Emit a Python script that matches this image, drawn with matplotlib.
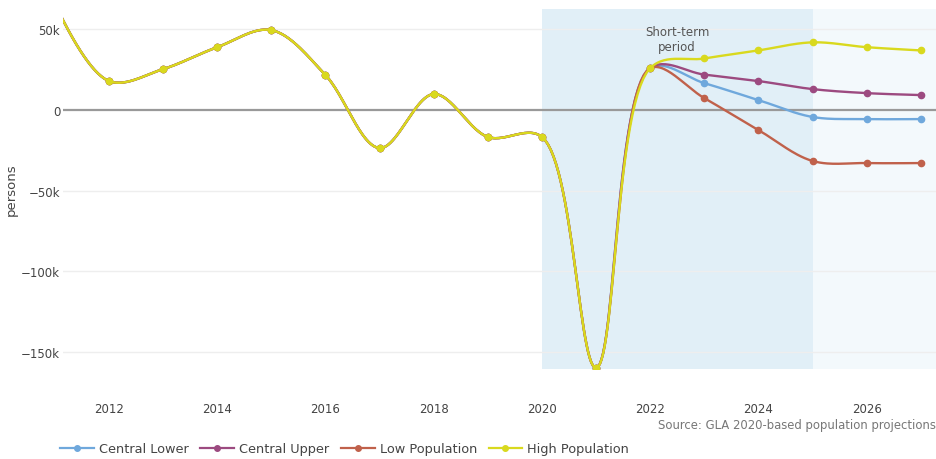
import numpy as np
import matplotlib.pyplot as plt
from matplotlib.ticker import FuncFormatter

# historical net flow (shared by every scenario)
years_hist = [2011, 2012, 2013, 2014, 2015, 2016, 2017, 2018, 2019, 2020, 2021, 2022]
hist = [66000, 18000, 25400, 39000, 49600, 21700, -23600, 9900, -16700, -16700, -160000, 26000]

# projections 2023-2027
years_proj = [2023, 2024, 2025, 2026, 2027]
central_lower = [16700, 6200, -4300, -5600, -5600]
central_upper = [22000, 18000, 13000, 10500, 9300]
low_pop = [7400, -12400, -31600, -32900, -32900]
high_pop = [32000, 37000, 42000, 39000, 37000]

names = ['Central Lower', 'Central Upper', 'Low Population', 'High Population']
colors = ['#6fa8dc', '#9c4a80', '#c0614b', '#d9d91e']

# pixels per unit, used to smooth the line the way plotly does
PX_X = 54.2
PX_Y = 80.6 / 50000


def tangent(p0, p1, p2, s):
    d1 = p0 - p1
    d2 = p2 - p1
    d1a = np.hypot(*d1) ** 0.5
    d2a = np.hypot(*d2) ** 0.5
    num = (d2a * d2a * d1 - d1a * d1a * d2) * s
    den1 = 3 * d2a * (d1a + d2a)
    den2 = 3 * d1a * (d1a + d2a)
    return p1 + num / den1, p1 - num / den2


def spline(x, y, s=1.0, n=30):
    pts = np.column_stack([np.array(x) * PX_X, np.array(y) * PX_Y])
    tans = [tangent(pts[i - 1], pts[i], pts[i + 1], s) for i in range(1, len(pts) - 1)]
    t = np.linspace(0, 1, n)[:, None]
    out = [pts[:1]]
    # first segment quadratic
    a, c, b = pts[0], tans[0][0], pts[1]
    out.append((1 - t) ** 2 * a + 2 * (1 - t) * t * c + t ** 2 * b)
    for i in range(2, len(pts) - 1):
        a, c1, c2, b = pts[i - 1], tans[i - 2][1], tans[i - 1][0], pts[i]
        out.append((1 - t) ** 3 * a + 3 * (1 - t) ** 2 * t * c1 + 3 * (1 - t) * t ** 2 * c2 + t ** 3 * b)
    a, c, b = pts[-2], tans[-1][1], pts[-1]
    out.append((1 - t) ** 2 * a + 2 * (1 - t) * t * c + t ** 2 * b)
    arr = np.vstack(out)
    return arr[:, 0] / PX_X, arr[:, 1] / PX_Y


fig = plt.figure(figsize=(9.37, 4.6), dpi=100)
ax = fig.add_axes([63 / 937, 1 - 370 / 460, 1 - 63 / 937, 360 / 460])

ax.axvspan(2020, 2025, color='#e1eff7', zorder=0, lw=0)
ax.axvspan(2025, 2030, color='#f3f9fc', zorder=0, lw=0)

for v in [50000, -50000, -100000, -150000]:
    ax.axhline(v, color='#eeeeee', lw=1, zorder=1)
ax.axhline(0, color='#999999', lw=1.6, zorder=2)

for name, col, proj in zip(names, colors, [central_lower, central_upper, low_pop, high_pop]):
    xs = years_hist + years_proj
    ys = hist + proj
    sx, sy = spline(xs, ys)
    ax.plot(sx, sy, color=col, lw=1.7, zorder=3)
    ax.plot(xs, ys, 'o', color=col, ms=4.5, zorder=3)
    ax.plot([], [], '-o', color=col, lw=1.6, ms=4, label=name)

ax.text(2022.5, 44000, 'Short-term\nperiod', ha='center', va='center', fontsize=8.5,
        color='#555555', linespacing=1.2)

ax.set_xlim(2011.15, 2027.3)
ax.set_ylim(-160700, 62700)
ax.set_xticks([2012, 2014, 2016, 2018, 2020, 2022, 2024, 2026])
ax.set_yticks([50000, 0, -50000, -100000, -150000])
ax.yaxis.set_major_formatter(FuncFormatter(
    lambda v, p: '0' if v == 0 else ('%dk' % (v / 1000)).replace('-', '\u2212')))
ax.tick_params(axis='x', length=0, pad=24, labelsize=8.5, labelcolor='#444444')
ax.tick_params(axis='y', length=0, pad=2, labelsize=8.5, labelcolor='#444444')
for sp in ax.spines.values():
    sp.set_visible(False)
ax.set_ylabel('persons', fontsize=9.5, color='#444444')
ax.yaxis.set_label_coords(-0.052, 0.5)

fig.legend(loc='center', bbox_to_anchor=(0.368, 0.022), ncol=4, frameon=False,
           fontsize=9.3, handlelength=2.6, columnspacing=0.9, handletextpad=0.4,
           labelcolor='#444444')
fig.text(0.999, 0.076, 'Source: GLA 2020-based population projections', ha='right',
         va='center', fontsize=8.4, color='#777777')

fig.savefig('out.png', dpi=100)
